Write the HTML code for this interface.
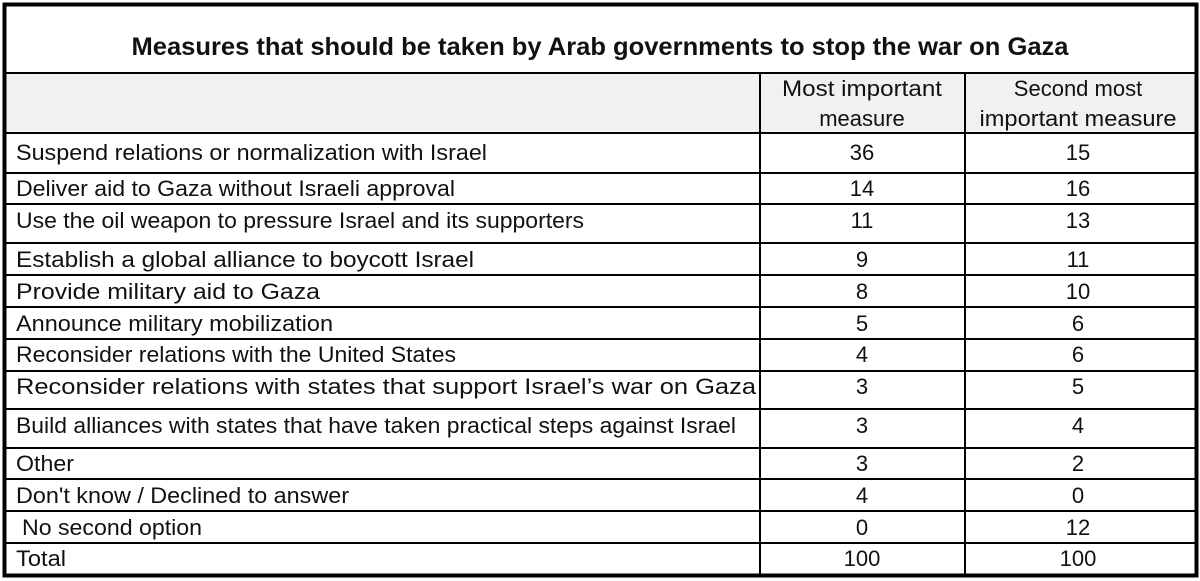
<!DOCTYPE html>
<html><head><meta charset="utf-8"><style>
html,body{margin:0;padding:0;background:#fff;}
svg{display:block;}
text{font-family:"Liberation Sans",sans-serif;font-size:22px;fill:#111;}
.t{font-weight:bold;font-size:25px;}
</style></head><body>
<svg width="1200" height="581" viewBox="0 0 1200 581">
<rect x="0" y="0" width="1200" height="581" fill="#fff"/>
<rect x="6" y="73" width="1189" height="60" fill="#f1f1f1"/>
<g stroke="#000" stroke-width="2">
<line x1="5" y1="73" x2="1196" y2="73"/>
<line x1="5" y1="133" x2="1196" y2="133"/>
<line x1="5" y1="173" x2="1196" y2="173"/>
<line x1="5" y1="204" x2="1196" y2="204"/>
<line x1="5" y1="243" x2="1196" y2="243"/>
<line x1="5" y1="275" x2="1196" y2="275"/>
<line x1="5" y1="307" x2="1196" y2="307"/>
<line x1="5" y1="339" x2="1196" y2="339"/>
<line x1="5" y1="371" x2="1196" y2="371"/>
<line x1="5" y1="409" x2="1196" y2="409"/>
<line x1="5" y1="448" x2="1196" y2="448"/>
<line x1="5" y1="479" x2="1196" y2="479"/>
<line x1="5" y1="511" x2="1196" y2="511"/>
<line x1="5" y1="543" x2="1196" y2="543"/>
<line x1="760" y1="73" x2="760" y2="575"/>
<line x1="965" y1="73" x2="965" y2="575"/>
</g>
<rect x="4.5" y="4.5" width="1192" height="571" fill="none" stroke="#000" stroke-width="4"/>
<text class="t" x="600" y="55" text-anchor="middle" textLength="937" lengthAdjust="spacingAndGlyphs">Measures that should be taken by Arab governments to stop the war on Gaza</text>
<g text-anchor="middle">
<text x="862" y="96" textLength="160" lengthAdjust="spacingAndGlyphs">Most important</text>
<text x="862" y="126">measure</text>
<text x="1078" y="96">Second most</text>
<text x="1078" y="126" textLength="197" lengthAdjust="spacingAndGlyphs">important measure</text>
</g>
<g>
<text x="16" y="160" textLength="471" lengthAdjust="spacingAndGlyphs">Suspend relations or normalization with Israel</text>
<text x="16" y="196" textLength="439" lengthAdjust="spacingAndGlyphs">Deliver aid to Gaza without Israeli approval</text>
<text x="16" y="228" textLength="568" lengthAdjust="spacingAndGlyphs">Use the oil weapon to pressure Israel and its supporters</text>
<text x="16" y="267" textLength="458" lengthAdjust="spacingAndGlyphs">Establish a global alliance to boycott Israel</text>
<text x="16" y="299" textLength="304" lengthAdjust="spacingAndGlyphs">Provide military aid to Gaza</text>
<text x="16" y="331" textLength="317" lengthAdjust="spacingAndGlyphs">Announce military mobilization</text>
<text x="16" y="362" textLength="440" lengthAdjust="spacingAndGlyphs">Reconsider relations with the United States</text>
<text x="16" y="394" textLength="740" lengthAdjust="spacingAndGlyphs">Reconsider relations with states that support Israel’s war on Gaza</text>
<text x="16" y="433" textLength="720" lengthAdjust="spacingAndGlyphs">Build alliances with states that have taken practical steps  against Israel</text>
<text x="16" y="471" textLength="58" lengthAdjust="spacingAndGlyphs">Other</text>
<text x="16" y="503" textLength="333" lengthAdjust="spacingAndGlyphs">Don't know / Declined to answer</text>
<text x="22" y="535" textLength="180" lengthAdjust="spacingAndGlyphs">No second option</text>
<text x="16" y="566" textLength="50" lengthAdjust="spacingAndGlyphs">Total</text>
</g>
<g text-anchor="middle">
<text x="862" y="160">36</text><text x="1078" y="160">15</text>
<text x="862" y="196">14</text><text x="1078" y="196">16</text>
<text x="862" y="228">11</text><text x="1078" y="228">13</text>
<text x="862" y="267">9</text><text x="1078" y="267">11</text>
<text x="862" y="299">8</text><text x="1078" y="299">10</text>
<text x="862" y="331">5</text><text x="1078" y="331">6</text>
<text x="862" y="362">4</text><text x="1078" y="362">6</text>
<text x="862" y="394">3</text><text x="1078" y="394">5</text>
<text x="862" y="433">3</text><text x="1078" y="433">4</text>
<text x="862" y="471">3</text><text x="1078" y="471">2</text>
<text x="862" y="503">4</text><text x="1078" y="503">0</text>
<text x="862" y="535">0</text><text x="1078" y="535">12</text>
<text x="862" y="566">100</text><text x="1078" y="566">100</text>
</g>
</svg>
</body></html>
